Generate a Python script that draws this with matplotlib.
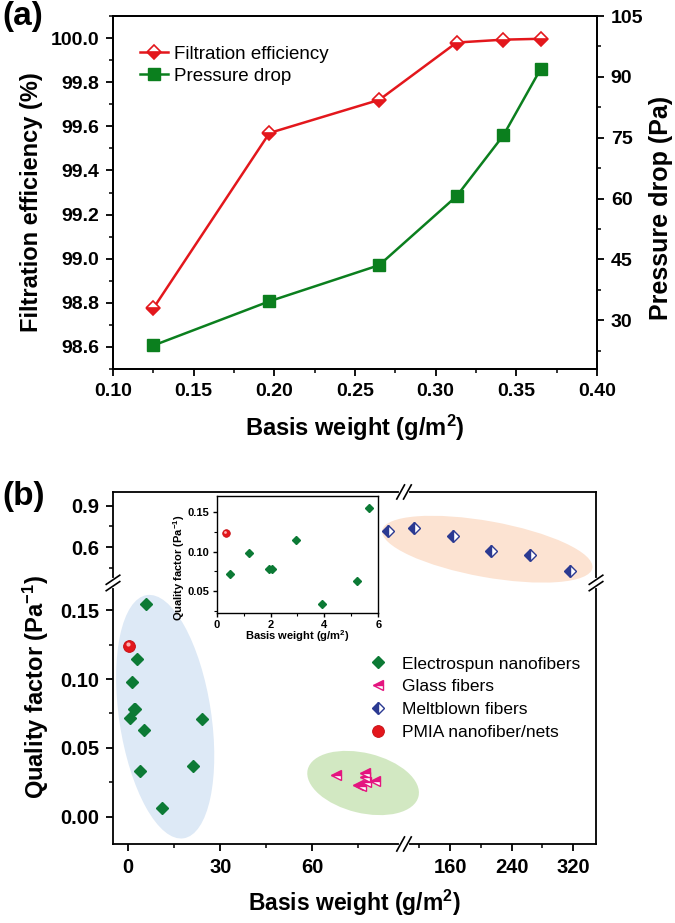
import numpy as np
import matplotlib
matplotlib.use("Agg")
import matplotlib.pyplot as plt
from matplotlib.patches import Ellipse
from matplotlib.transforms import offset_copy
from matplotlib.ticker import FixedLocator, FixedFormatter, MultipleLocator, FormatStrFormatter

plt.rcParams['font.family'] = ['Liberation Sans', 'DejaVu Sans']
plt.rcParams['mathtext.fontset'] = 'custom'
plt.rcParams['mathtext.rm'] = 'Liberation Sans'
plt.rcParams['mathtext.bf'] = 'Liberation Sans:bold'
plt.rcParams['mathtext.default'] = 'bf'
plt.rcParams['axes.linewidth'] = 1.3

# ---- data, panel (a)
basis_a = [0.125, 0.197, 0.265, 0.313, 0.342, 0.365]
filt_eff = [98.775, 99.57, 99.72, 99.98, 99.993, 99.997]
p_drop = [23.8, 34.7, 43.6, 60.6, 75.6, 91.9]

# ---- data, panel (b)
es_x = [0.5, 1.2, 1.95, 2.05, 2.95, 3.9, 5.2, 5.65, 11.0, 21.0, 24.1]
es_q = [0.072, 0.098, 0.078, 0.078, 0.115, 0.033, 0.063, 0.155, 0.006, 0.037, 0.071]
glass_x = [67.7, 75.0, 76.0, 77.1, 77.4, 77.7, 80.5]
glass_q = [0.030, 0.023, 0.022, 0.032, 0.029, 0.025, 0.026]
melt_x = [84.8, 112.5, 163.4, 213.2, 264.6, 315.5]
melt_q = [0.718, 0.742, 0.677, 0.575, 0.544, 0.428]
pmia_x = [0.35]
pmia_q = [0.124]
inset_n = 8  # electrospun points with basis weight < 6 g/m2

red = '#e3171c'
green_a = '#0b7f1e'
green_b = '#0c7a35'
magenta = '#e4147f'
navy = '#2b3a92'

fig = plt.figure(figsize=(6.75, 9.23), dpi=100)

# ================= panel (a)
ax = fig.add_axes([0.1674, 0.6002, 0.717, 0.3824])
ax2 = ax.twinx()
l1, = ax.plot(basis_a, filt_eff, color=red, lw=1.8, marker='D', ms=7,
              fillstyle='bottom', mfc=red, mfcalt='white', mec=red, mew=1.2,
              label='Filtration efficiency')
l2, = ax2.plot(basis_a, p_drop, color=green_a, lw=1.8, marker='s', ms=8,
               mfc=green_a, mec=green_a, label='Pressure drop')
ax.set_xlim(0.10, 0.40)
ax.set_ylim(98.5, 100.1)
ax2.set_ylim(18, 105)
ax.set_xticks(np.arange(0.10, 0.401, 0.05))
ax.xaxis.set_minor_locator(MultipleLocator(0.025))
ax.xaxis.set_major_formatter(FormatStrFormatter('%.2f'))
ax.set_yticks(np.arange(98.6, 100.01, 0.2))
ax.yaxis.set_minor_locator(MultipleLocator(0.1))
ax.yaxis.set_major_formatter(FormatStrFormatter('%.1f'))
ax2.set_yticks(np.arange(30, 106, 15))
ax2.yaxis.set_minor_locator(MultipleLocator(7.5))
for a in (ax, ax2):
    a.tick_params(which='major', direction='out', length=5, width=1.3, labelsize=14, pad=5)
    a.tick_params(which='minor', direction='out', length=3, width=1.1)
    for t in a.get_xticklabels() + a.get_yticklabels():
        t.set_fontweight('bold')
ax.tick_params(top=False, right=False, which='both')

ax.set_xlabel('Basis weight (g/m$^2$)', fontsize=17, fontweight='bold', va='top')
ax.xaxis.set_label_coords(0.5, -0.125)
ax.set_ylabel('Filtration efficiency (%)', fontsize=17, fontweight='bold')
ax.yaxis.set_label_coords(-0.145, 0.473)
ax2.set_ylabel('Pressure drop (Pa)', fontsize=18, fontweight='bold')
ax2.yaxis.set_label_coords(1.107, 0.456)

ax2.legend(handles=[l1, l2], loc='upper left', bbox_to_anchor=(0.056, 0.916),
           frameon=False, fontsize=13.5, handlelength=1.5, handletextpad=0.3,
           labelspacing=0.25, borderpad=0, borderaxespad=0)

fig.text(0.004, 0.999, '(a)', fontsize=24, fontweight='bold', ha='left', va='top')

# ================= panel (b)
axb = fig.add_axes([0.1674, 0.0856, 0.7156, 0.3814])

x_edges = [-5, 90, 100, 350]
x_pos = [0, 0.6025, 0.6026, 1]
y_edges = [-0.02, 0.17, 0.34, 1.0]
y_pos = [0, 0.7415, 0.7416, 1]
axb.set_xscale('function', functions=(lambda v: np.interp(v, x_edges, x_pos),
                                      lambda v: np.interp(v, x_pos, x_edges)))
axb.set_yscale('function', functions=(lambda v: np.interp(v, y_edges, y_pos),
                                      lambda v: np.interp(v, y_pos, y_edges)))

# highlight ellipses (figure inches)
for cx, cy, w, h, ang, col in [(1.652, 2.063, 0.92, 2.46, 8.6, '#dde9f6'),
                               (4.873, 3.738, 2.135, 0.56, -10.2, '#fce3d2'),
                               (3.631, 1.40, 1.14, 0.60, -13.7, '#d2e8c2')]:
    axb.add_patch(Ellipse((cx, cy), w, h, angle=ang, facecolor=col, edgecolor='none',
                          transform=fig.dpi_scale_trans, zorder=0.5))

h1, = axb.plot(es_x, es_q, ls='none', marker='D', ms=6, color=green_b, mec=green_b,
               label='Electrospun nanofibers', zorder=3)
h2, = axb.plot(glass_x, glass_q, ls='none', marker='<', ms=7.5, fillstyle='top',
               mfc=magenta, mfcalt='white', mec=magenta, mew=1.0,
               label='Glass fibers', zorder=3)
h3, = axb.plot(melt_x, melt_q, ls='none', marker='D', ms=5.8, fillstyle='left',
               mfc=navy, mfcalt='white', mec=navy, mew=1.0,
               label='Meltblown fibers', zorder=3)
h4, = axb.plot(pmia_x, pmia_q, ls='none', marker='o', ms=8.5, color=red, mec='#c40d12',
               mew=0.6, label='PMIA nanofiber/nets', zorder=3)
axb.plot(pmia_x, pmia_q, ls='none', marker='o', ms=3, color='#ffb0b0', mec='none', zorder=4,
         transform=offset_copy(axb.transData, fig=fig, x=-1.3, y=1.3, units='points'))

axb.set_xlim(-5, 350)
axb.set_ylim(-0.02, 1.0)
axb.xaxis.set_major_locator(FixedLocator([0, 30, 60, 160, 240, 320]))
axb.xaxis.set_major_formatter(FixedFormatter(['0', '30', '60', '160', '240', '320']))
axb.xaxis.set_minor_locator(FixedLocator([15, 45, 75, 120, 200, 280]))
axb.yaxis.set_major_locator(FixedLocator([0, 0.05, 0.10, 0.15, 0.6, 0.9]))
axb.yaxis.set_major_formatter(FixedFormatter(['0.00', '0.05', '0.10', '0.15', '0.6', '0.9']))
axb.yaxis.set_minor_locator(FixedLocator([0.025, 0.075, 0.125, 0.45, 0.75]))
axb.tick_params(which='major', direction='out', length=5, width=1.3, labelsize=14.5, pad=5)
axb.tick_params(which='minor', direction='out', length=3, width=1.1)
for t in axb.get_xticklabels() + axb.get_yticklabels():
    t.set_fontweight('bold')

axb.set_xlabel('Basis weight (g/m$^2$)', fontsize=16.5, fontweight='bold', va='baseline')
axb.xaxis.set_label_coords(0.499, -0.19)
axb.set_ylabel('Quality factor (Pa$^{-1}$)', fontsize=17, fontweight='bold')
axb.yaxis.set_label_coords(-0.128, 0.446)

axb.legend(handles=[h1, h2, h3, h4], loc='upper left', bbox_to_anchor=(0.531, 0.533),
           frameon=False, fontsize=12.5, handlelength=1.0, handletextpad=0.9,
           labelspacing=0.45, borderpad=0, borderaxespad=0)

# axis break marks
tr = axb.transAxes
yb = y_pos[1]
xb = x_pos[1]
for xf in (0, 1):
    axb.plot([xf, xf], [yb - 0.009, yb + 0.009], color='white', lw=3, transform=tr,
             clip_on=False, zorder=5)
    for dy in (-0.009, 0.009):
        axb.plot([xf - 0.014, xf + 0.014], [yb + dy - 0.013, yb + dy + 0.013], color='k',
                 lw=1.2, transform=tr, clip_on=False, zorder=6)
for yf in (0, 1):
    axb.plot([xb - 0.007, xb + 0.007], [yf, yf], color='white', lw=3, transform=tr,
             clip_on=False, zorder=5)
    for dx in (-0.007, 0.007):
        axb.plot([xb + dx - 0.008, xb + dx + 0.008], [yf - 0.02, yf + 0.02], color='k',
                 lw=1.2, transform=tr, clip_on=False, zorder=6)

fig.text(0.004, 0.479, '(b)', fontsize=24, fontweight='bold', ha='left', va='top')

# ---- inset
axi = fig.add_axes([0.321, 0.3355, 0.2394, 0.1271])
axi.plot(es_x[:inset_n], es_q[:inset_n], ls='none', marker='D', ms=4.2, color=green_b, mec=green_b)
axi.plot(pmia_x, pmia_q, ls='none', marker='o', ms=5.5, color=red, mec='#c40d12', mew=0.5)
axi.plot(pmia_x, pmia_q, ls='none', marker='o', ms=2, color='#ffb0b0', mec='none',
         transform=offset_copy(axi.transData, fig=fig, x=-0.8, y=0.8, units='points'))
axi.set_xlim(0, 6)
axi.set_ylim(0.0217, 0.1707)
axi.set_xticks([0, 2, 4, 6])
axi.xaxis.set_minor_locator(MultipleLocator(1))
axi.set_yticks([0.05, 0.10, 0.15])
axi.yaxis.set_minor_locator(MultipleLocator(0.025))
axi.yaxis.set_major_formatter(FormatStrFormatter('%.2f'))
for s in axi.spines.values():
    s.set_linewidth(1.0)
axi.tick_params(which='major', direction='out', length=3, width=1.0, labelsize=8, pad=2)
axi.tick_params(which='minor', direction='out', length=2, width=0.8)
for t in axi.get_xticklabels() + axi.get_yticklabels():
    t.set_fontweight('bold')
axi.set_xlabel('Basis weight (g/m$^2$)', fontsize=8, fontweight='bold', va='top')
axi.xaxis.set_label_coords(0.5, -0.13)
axi.set_ylabel('Quality factor (Pa$^{-1}$)', fontsize=8, fontweight='bold')
axi.yaxis.set_label_coords(-0.184, 0.386)

fig.savefig('out.png', dpi=100)
